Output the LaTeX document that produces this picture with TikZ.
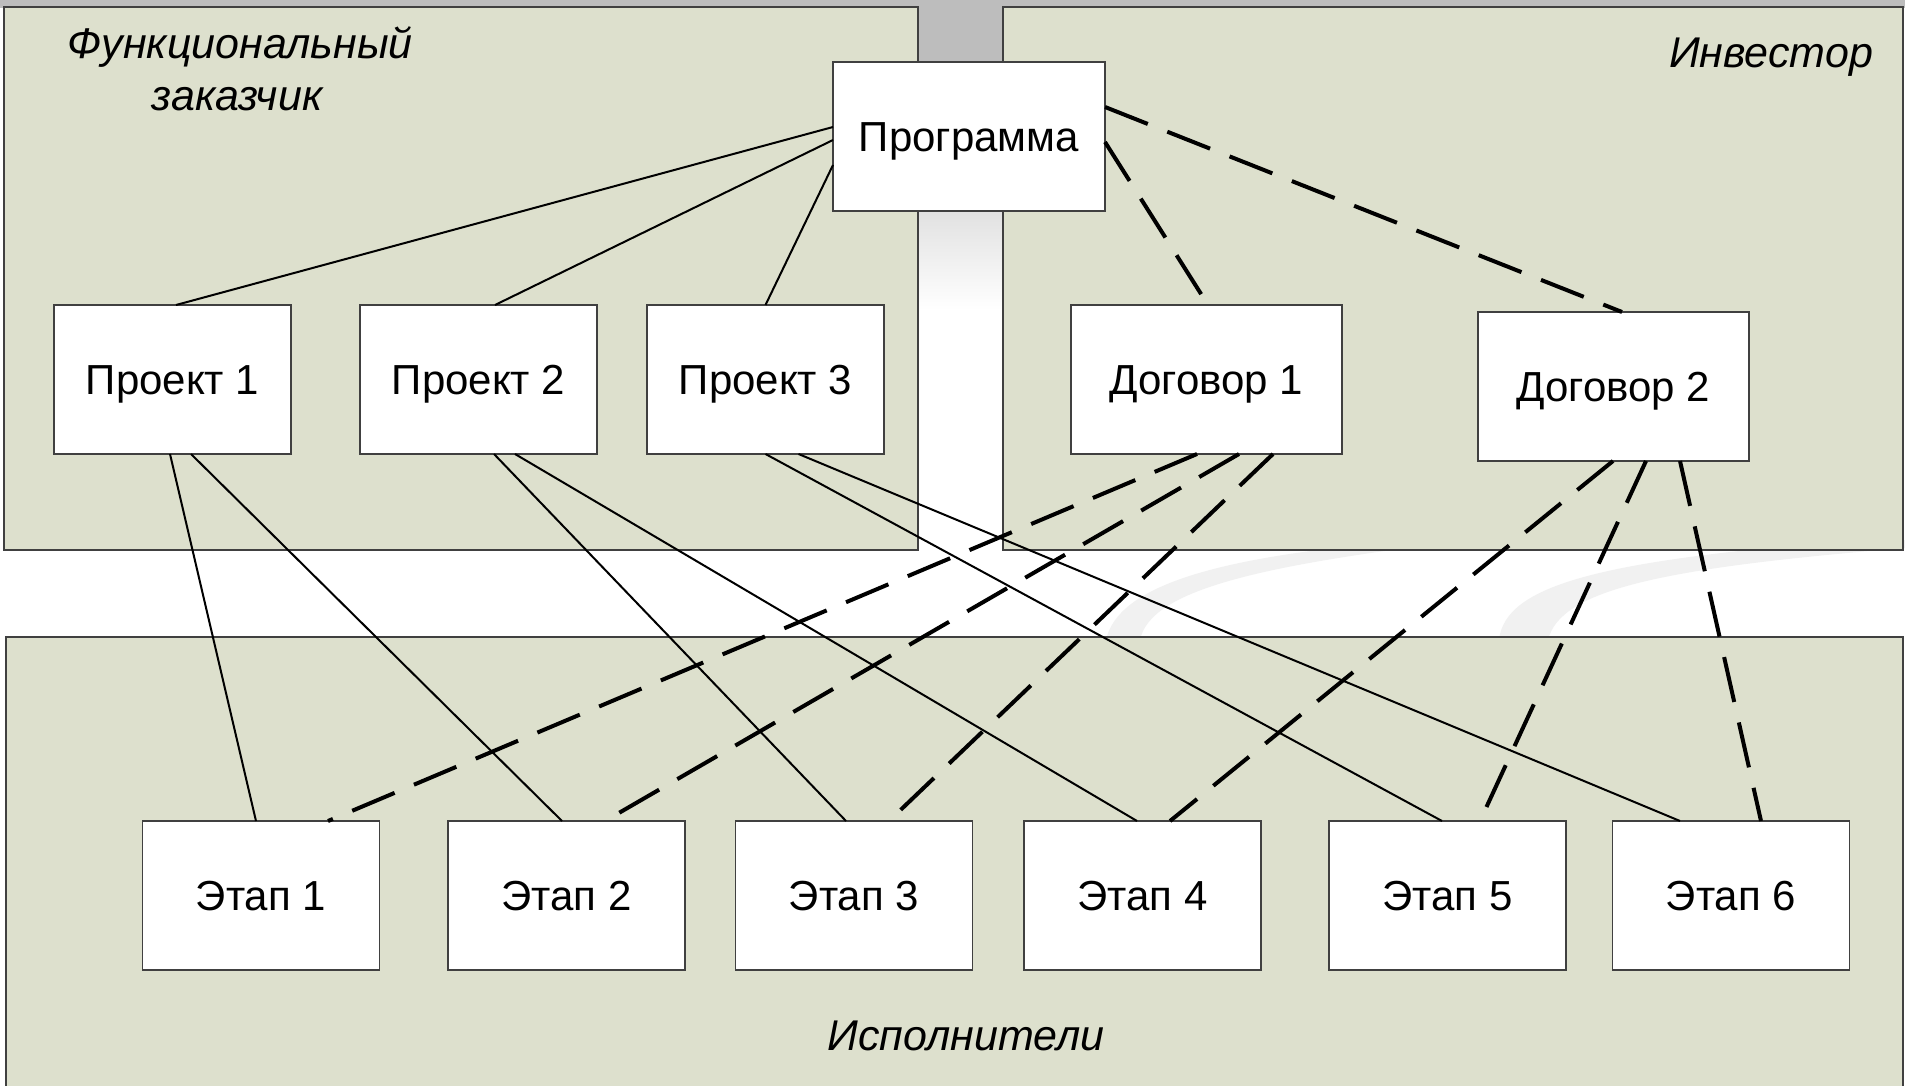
\documentclass[tikz,border=0pt]{standalone}
\usepackage{fontspec}
\setmainfont{Liberation Sans}
\definecolor{panel}{RGB}{221,224,205}
\definecolor{frame}{RGB}{64,64,64}
\definecolor{topgray}{RGB}{189,189,189}
\definecolor{swoosh}{RGB}{241,241,241}
\begin{document}
\begin{tikzpicture}[x=1pt,y=-1pt,
  box/.style={draw=frame, line width=1.6pt, fill=white, inner sep=0pt, outer sep=0pt,
    minimum width=237pt, minimum height=149pt, text height=30pt, text depth=0pt,
    font=\fontsize{42}{50}\selectfont},
  panelbox/.style={draw=frame, line width=1.8pt, fill=panel},
  tie/.style={line width=2pt},
  contract/.style={line width=4pt, dash pattern=on 46pt off 21pt},
  zone/.style={font=\fontsize{43}{50}\selectfont\itshape, inner sep=0pt, anchor=base}]

\useasboundingbox (0,0) rectangle (1905,1086);
% background, top band and the central strip
\fill[white] (0,0) rectangle (1905,1086);
\fill[topgray] (0,0) rectangle (1905,8);
\fill[topgray] (918,0) rectangle (1003,90);
\shade[top color=topgray, bottom color=white] (918,90) rectangle (1003,310);

% faint decorative swooshes in the gap
\fill[swoosh] (1106,640) .. controls (1118,585) and (1220,555) .. (1420,540)
  -- (1470,540) .. controls (1260,565) and (1150,590) .. (1140,640) -- cycle;
\fill[swoosh] (1499,640) .. controls (1505,585) and (1600,560) .. (1860,540)
  -- (1905,540) -- (1905,548) .. controls (1660,568) and (1560,590) .. (1548,640) -- cycle;

% the three zones
\draw[panelbox] (4,7) rectangle (918,550);
\draw[panelbox] (1003,7) rectangle (1903,550);
\draw[panelbox] (6,637) rectangle (1903,1095);

\node[zone] (fz1) at (240,59) {Функциональный};
\node[zone] (fz2) at (237,111) {заказчик};
\node[zone] (inv) at (1771,68) {Инвестор};
\node[zone] (isp) at (966,1050) {Исполнители};

% boxes
\node[box, minimum width=272pt] (prog) at (969,136.5) {Программа};
\node[box] (p1) at (172.5,379.5) {Проект 1};
\node[box] (p2) at (478.5,379.5) {Проект 2};
\node[box] (p3) at (765.5,379.5) {Проект 3};
\node[box, minimum width=271pt] (d1) at (1206.5,379.5) {Договор 1};
\node[box, minimum width=271pt] (d2) at (1613.5,386.5) {Договор 2};
\node[box] (s1) at (261,895.5) {Этап 1};
\node[box] (s2) at (566.5,895.5) {Этап 2};
\node[box] (s3) at (854,895.5) {Этап 3};
\node[box] (s4) at (1142.5,895.5) {Этап 4};
\node[box] (s5) at (1447.5,895.5) {Этап 5};
\node[box] (s6) at (1731,895.5) {Этап 6};

% functional links
\draw[tie] ([yshift=9.5pt]prog.west) -- ([xshift=3.5pt]p1.north);
\draw[tie] ([yshift=-3.5pt]prog.west) -- ([xshift=16.5pt]p2.north);
\draw[tie] ([yshift=-28.5pt]prog.west) -- (p3.north);
\draw[tie] ([xshift=-2.5pt]p1.south) -- ([xshift=-5pt]s1.north);
\draw[tie] ([xshift=18.5pt]p1.south) -- ([xshift=-4.5pt]s2.north);
\draw[tie] ([xshift=15.5pt]p2.south) -- ([xshift=-8pt]s3.north);
\draw[tie] ([xshift=36.5pt]p2.south) -- ([xshift=-5.5pt]s4.north);
\draw[tie] (p3.south) -- ([xshift=-5.5pt]s5.north);
\draw[tie] ([xshift=33pt]p3.south) -- ([xshift=-51pt]s6.north);

% contract links
\draw[contract] ([yshift=29.5pt]prog.east) -- ([xshift=8.5pt]d2.north);
\draw[contract] ([yshift=-5.5pt]prog.east) -- ([xshift=1.5pt]d1.north);
\draw[contract] ([xshift=-9.5pt]d1.south) -- ([xshift=67pt]s1.north);
\draw[contract] ([xshift=32.5pt]d1.south) -- ([xshift=38.5pt]s2.north);
\draw[contract] ([xshift=66.5pt]d1.south) -- ([xshift=35pt]s3.north);
\draw[contract] ([xshift=-0.5pt]d2.south) -- ([xshift=27.5pt]s4.north);
\draw[contract] ([xshift=32.5pt]d2.south) -- ([xshift=32.5pt]s5.north);
\draw[contract] ([xshift=66.5pt]d2.south) -- ([xshift=30pt]s6.north);
\end{tikzpicture}
\end{document}
